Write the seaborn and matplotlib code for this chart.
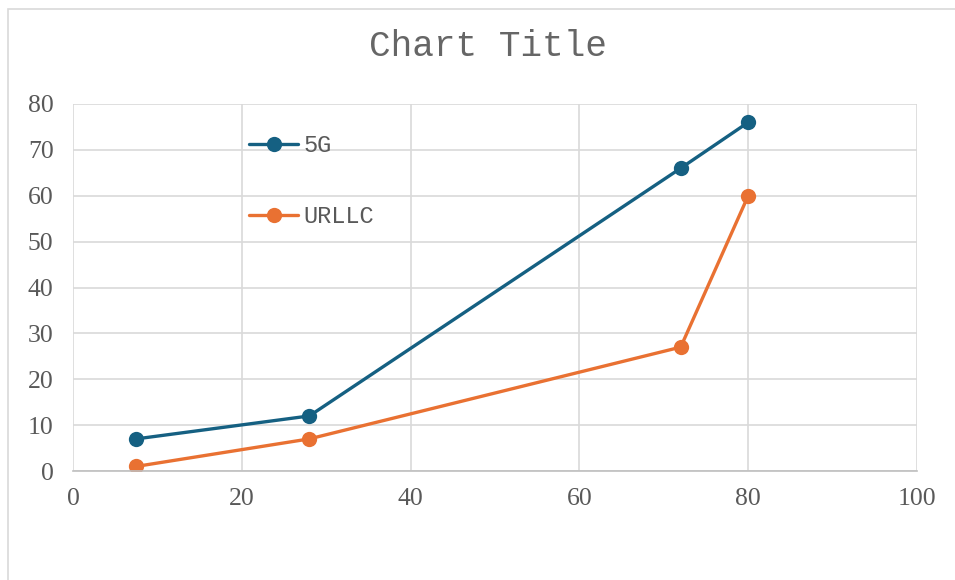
import matplotlib
matplotlib.use("Agg")
import matplotlib.pyplot as plt
from matplotlib.patches import Rectangle
from matplotlib.lines import Line2D
import seaborn as sns
import pandas as pd

# Series values
x_5g = [7.5, 28, 72, 80]
y_5g = [7, 12, 66, 76]
x_urllc = [7.5, 28, 72, 80]
y_urllc = [1, 7, 27, 60]
series_names = ["5G", "URLLC"]
colors = ["#156082", "#E97132"]
x_ticks = [0, 20, 40, 60, 80, 100]
y_ticks = [0, 10, 20, 30, 40, 50, 60, 70, 80]
title = "Chart Title"

df = pd.concat([
    pd.DataFrame({"x": x_5g, "y": y_5g, "series": series_names[0]}),
    pd.DataFrame({"x": x_urllc, "y": y_urllc, "series": series_names[1]}),
], ignore_index=True)

sns.set_theme(style="white")
plt.rcParams["font.family"] = ["Liberation Serif", "DejaVu Serif"]

W, H = 955, 580
fig = plt.figure(figsize=(W / 100, H / 100), dpi=100)
fig.patch.set_facecolor("white")

# Outer chart frame
fig.add_artist(Rectangle((8 / W, -0.05), 1.2, (H - 9) / H + 0.05,
                         transform=fig.transFigure, fill=False,
                         edgecolor="#d9d9d9", linewidth=1.2))

left, right, bottom, top = 73 / W, 917 / W, 1 - 471 / H, 1 - 104 / H
ax = fig.add_axes([left, bottom, right - left, top - bottom])

sns.lineplot(data=df, x="x", y="y", hue="series", palette=colors,
             sort=False, estimator=None, marker="o", markersize=11,
             markeredgewidth=0, linewidth=2.4, ax=ax, legend=False)

ax.set_xlim(0, 100)
ax.set_ylim(0, 80)
ax.set_xticks(x_ticks)
ax.set_yticks(y_ticks)
ax.set_xlabel("")
ax.set_ylabel("")
ax.grid(True, color="#d9d9d9", linewidth=1.2)
ax.set_axisbelow(True)
for side in ["top", "left", "right"]:
    ax.spines[side].set_visible(False)
ax.spines["bottom"].set_color("#bfbfbf")
ax.spines["bottom"].set_linewidth(1.2)
ax.tick_params(axis="both", length=0, labelsize=18.5, labelcolor="#595959")
ax.tick_params(axis="y", pad=14)
ax.tick_params(axis="x", pad=12)

# Legend inside plot area
handles = [Line2D([], [], color=c, marker="o", markersize=11,
                  markeredgewidth=0, linewidth=2.4) for c in colors]
leg = ax.legend(handles, series_names, loc="upper left",
                bbox_to_anchor=(237 / W, 1 - 122 / H),
                bbox_transform=fig.transFigure, frameon=False,
                prop={"family": "Liberation Mono", "size": 17},
                labelcolor="#595959", handlelength=2.1, handletextpad=0.2,
                labelspacing=2.05, borderpad=0)

fig.text(488 / W, 1 - 46 / H, title, ha="center", va="center",
         family="Liberation Mono", fontsize=26, color="#666666")

fig.savefig("out.png", dpi=100)
